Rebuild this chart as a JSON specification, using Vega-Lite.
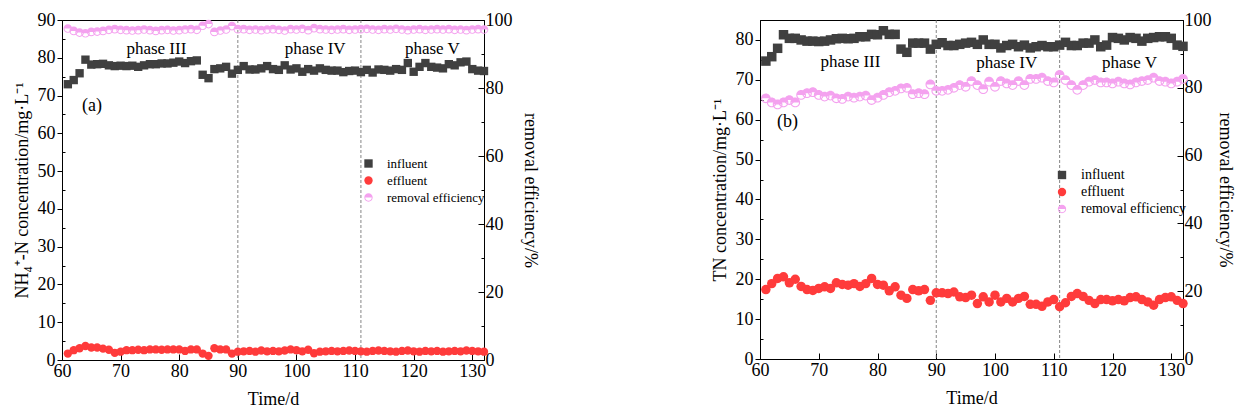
{
  "$schema": "https://vega.github.io/schema/vega-lite/v6.json",
  "background": "white",
  "padding": {"left": 12, "top": 10, "right": 5, "bottom": 2},
  "config": {
    "font": "Liberation Serif",
    "view": {"stroke": "black", "strokeWidth": 1},
    "axis": {"labelFont": "Liberation Serif", "labelFontSize": 18, "labelColor": "black", "titleFont": "Liberation Serif", "titleFontSize": 18, "titleFontWeight": "normal", "titleColor": "black", "domainColor": "black", "tickColor": "black", "grid": false, "labelFlush": false, "labelOverlap": false},
    "legend": {"labelFont": "Liberation Serif", "labelFontSize": 13, "labelColor": "black", "symbolSize": 70, "rowPadding": 3, "labelOffset": 12, "padding": 0, "symbolStrokeWidth": 0},
    "concat": {"spacing": 171}
  },
  "datasets": {
    "a": [
      {"d":61,"influent":73.0,"effluent":1.7,"removal efficiency":97.5},
      {"d":62,"influent":74.1,"effluent":2.6,"removal efficiency":96.8},
      {"d":63,"influent":75.9,"effluent":3.1,"removal efficiency":96.3},
      {"d":64,"influent":79.5,"effluent":3.7,"removal efficiency":96.1},
      {"d":65,"influent":78.2,"effluent":3.3,"removal efficiency":96.5},
      {"d":66,"influent":78.3,"effluent":3.3,"removal efficiency":96.6},
      {"d":67,"influent":78.4,"effluent":3.0,"removal efficiency":96.8},
      {"d":68,"influent":78.0,"effluent":2.7,"removal efficiency":97.1},
      {"d":69,"influent":77.8,"effluent":1.9,"removal efficiency":97.3},
      {"d":70,"influent":77.9,"effluent":2.2,"removal efficiency":97.1},
      {"d":71,"influent":77.8,"effluent":2.6,"removal efficiency":97.0},
      {"d":72,"influent":77.9,"effluent":2.6,"removal efficiency":96.9},
      {"d":73,"influent":77.6,"effluent":2.7,"removal efficiency":97.0},
      {"d":74,"influent":78.0,"effluent":2.6,"removal efficiency":97.2},
      {"d":75,"influent":78.3,"effluent":2.8,"removal efficiency":97.0},
      {"d":76,"influent":78.3,"effluent":2.8,"removal efficiency":96.8},
      {"d":77,"influent":78.5,"effluent":2.7,"removal efficiency":97.0},
      {"d":78,"influent":78.5,"effluent":2.8,"removal efficiency":97.1},
      {"d":79,"influent":78.7,"effluent":2.8,"removal efficiency":96.9},
      {"d":80,"influent":79.0,"effluent":2.8,"removal efficiency":97.0},
      {"d":81,"influent":78.6,"effluent":2.4,"removal efficiency":97.2},
      {"d":82,"influent":79.1,"effluent":2.8,"removal efficiency":97.3},
      {"d":83,"influent":79.3,"effluent":2.8,"removal efficiency":97.1},
      {"d":84,"influent":75.5,"effluent":1.7,"removal efficiency":98.3},
      {"d":85,"influent":74.6,"effluent":1.1,"removal efficiency":98.8},
      {"d":86,"influent":77.0,"effluent":3.1,"removal efficiency":96.5},
      {"d":87,"influent":77.2,"effluent":2.8,"removal efficiency":96.9},
      {"d":88,"influent":77.6,"effluent":2.8,"removal efficiency":97.2},
      {"d":89,"influent":75.8,"effluent":1.7,"removal efficiency":98.2},
      {"d":90,"influent":76.8,"effluent":2.2,"removal efficiency":97.3},
      {"d":91,"influent":77.8,"effluent":2.3,"removal efficiency":97.3},
      {"d":92,"influent":76.9,"effluent":2.4,"removal efficiency":97.1},
      {"d":93,"influent":76.9,"effluent":2.2,"removal efficiency":97.2},
      {"d":94,"influent":77.2,"effluent":2.5,"removal efficiency":97.0},
      {"d":95,"influent":77.8,"effluent":2.3,"removal efficiency":97.2},
      {"d":96,"influent":77.0,"effluent":2.4,"removal efficiency":97.3},
      {"d":97,"influent":76.8,"effluent":2.3,"removal efficiency":97.1},
      {"d":98,"influent":78.0,"effluent":2.5,"removal efficiency":96.9},
      {"d":99,"influent":76.9,"effluent":2.8,"removal efficiency":97.3},
      {"d":100,"influent":77.2,"effluent":2.6,"removal efficiency":97.2},
      {"d":101,"influent":76.3,"effluent":2.3,"removal efficiency":97.4},
      {"d":102,"influent":77.0,"effluent":2.7,"removal efficiency":97.0},
      {"d":103,"influent":76.6,"effluent":1.8,"removal efficiency":97.6},
      {"d":104,"influent":77.2,"effluent":2.2,"removal efficiency":97.3},
      {"d":105,"influent":76.8,"effluent":2.3,"removal efficiency":97.2},
      {"d":106,"influent":76.6,"effluent":2.4,"removal efficiency":97.1},
      {"d":107,"influent":76.6,"effluent":2.3,"removal efficiency":97.2},
      {"d":108,"influent":76.2,"effluent":2.4,"removal efficiency":97.3},
      {"d":109,"influent":76.5,"effluent":2.5,"removal efficiency":97.1},
      {"d":110,"influent":76.6,"effluent":2.4,"removal efficiency":97.2},
      {"d":111,"influent":76.2,"effluent":2.3,"removal efficiency":97.3},
      {"d":112,"influent":76.8,"effluent":2.2,"removal efficiency":97.4},
      {"d":113,"influent":76.1,"effluent":2.4,"removal efficiency":97.2},
      {"d":114,"influent":76.9,"effluent":2.5,"removal efficiency":97.1},
      {"d":115,"influent":76.8,"effluent":2.4,"removal efficiency":97.3},
      {"d":116,"influent":76.6,"effluent":2.3,"removal efficiency":97.2},
      {"d":117,"influent":77.0,"effluent":2.2,"removal efficiency":97.4},
      {"d":118,"influent":76.8,"effluent":2.4,"removal efficiency":97.2},
      {"d":119,"influent":78.6,"effluent":2.5,"removal efficiency":97.0},
      {"d":120,"influent":76.3,"effluent":2.3,"removal efficiency":97.2},
      {"d":121,"influent":77.6,"effluent":2.2,"removal efficiency":97.3},
      {"d":122,"influent":78.6,"effluent":2.4,"removal efficiency":97.1},
      {"d":123,"influent":77.6,"effluent":2.3,"removal efficiency":97.2},
      {"d":124,"influent":77.4,"effluent":2.4,"removal efficiency":97.3},
      {"d":125,"influent":77.2,"effluent":2.2,"removal efficiency":97.2},
      {"d":126,"influent":78.3,"effluent":2.3,"removal efficiency":97.3},
      {"d":127,"influent":78.0,"effluent":2.4,"removal efficiency":97.1},
      {"d":128,"influent":78.8,"effluent":2.3,"removal efficiency":97.2},
      {"d":129,"influent":79.0,"effluent":2.5,"removal efficiency":97.0},
      {"d":130,"influent":77.0,"effluent":2.4,"removal efficiency":97.2},
      {"d":131,"influent":76.6,"effluent":2.3,"removal efficiency":97.3},
      {"d":132,"influent":76.5,"effluent":2.2,"removal efficiency":97.2}
    ],
    "b": [
      {"d":61,"influent":74.7,"effluent":17.4,"removal efficiency":76.9},
      {"d":62,"influent":75.8,"effluent":18.9,"removal efficiency":75.7},
      {"d":63,"influent":77.9,"effluent":20.2,"removal efficiency":75.1},
      {"d":64,"influent":81.3,"effluent":20.6,"removal efficiency":75.7},
      {"d":65,"influent":80.4,"effluent":19.1,"removal efficiency":76.4},
      {"d":66,"influent":80.4,"effluent":20.0,"removal efficiency":75.7},
      {"d":67,"influent":80.0,"effluent":18.2,"removal efficiency":77.9},
      {"d":68,"influent":79.7,"effluent":17.4,"removal efficiency":78.4},
      {"d":69,"influent":79.7,"effluent":17.2,"removal efficiency":78.7},
      {"d":70,"influent":79.6,"effluent":17.7,"removal efficiency":77.9},
      {"d":71,"influent":79.7,"effluent":18.1,"removal efficiency":77.4},
      {"d":72,"influent":80.0,"effluent":17.7,"removal efficiency":77.7},
      {"d":73,"influent":80.3,"effluent":19.1,"removal efficiency":76.9},
      {"d":74,"influent":80.4,"effluent":18.7,"removal efficiency":76.7},
      {"d":75,"influent":80.3,"effluent":18.5,"removal efficiency":77.4},
      {"d":76,"influent":80.4,"effluent":18.9,"removal efficiency":77.1},
      {"d":77,"influent":80.8,"effluent":18.2,"removal efficiency":77.4},
      {"d":78,"influent":80.8,"effluent":18.9,"removal efficiency":77.7},
      {"d":79,"influent":81.4,"effluent":20.2,"removal efficiency":76.4},
      {"d":80,"influent":81.3,"effluent":18.7,"removal efficiency":77.1},
      {"d":81,"influent":82.3,"effluent":18.5,"removal efficiency":77.9},
      {"d":82,"influent":81.4,"effluent":17.1,"removal efficiency":78.7},
      {"d":83,"influent":81.4,"effluent":18.1,"removal efficiency":79.1},
      {"d":84,"influent":77.7,"effluent":16.0,"removal efficiency":79.8},
      {"d":85,"influent":76.9,"effluent":15.2,"removal efficiency":80.0},
      {"d":86,"influent":79.2,"effluent":17.4,"removal efficiency":78.1},
      {"d":87,"influent":79.2,"effluent":17.1,"removal efficiency":78.4},
      {"d":88,"influent":79.2,"effluent":17.4,"removal efficiency":78.1},
      {"d":89,"influent":77.7,"effluent":14.7,"removal efficiency":81.0},
      {"d":90,"influent":78.9,"effluent":16.6,"removal efficiency":79.1},
      {"d":91,"influent":79.3,"effluent":16.6,"removal efficiency":79.1},
      {"d":92,"influent":78.6,"effluent":16.4,"removal efficiency":79.4},
      {"d":93,"influent":78.6,"effluent":16.8,"removal efficiency":80.0},
      {"d":94,"influent":78.9,"effluent":15.6,"removal efficiency":80.8},
      {"d":95,"influent":79.2,"effluent":15.4,"removal efficiency":80.3},
      {"d":96,"influent":79.4,"effluent":16.0,"removal efficiency":82.0},
      {"d":97,"influent":78.9,"effluent":13.9,"removal efficiency":80.8},
      {"d":98,"influent":80.0,"effluent":15.6,"removal efficiency":79.6},
      {"d":99,"influent":78.9,"effluent":14.3,"removal efficiency":81.8},
      {"d":100,"influent":78.9,"effluent":16.0,"removal efficiency":80.3},
      {"d":101,"influent":78.0,"effluent":14.3,"removal efficiency":82.0},
      {"d":102,"influent":78.6,"effluent":15.2,"removal efficiency":81.3},
      {"d":103,"influent":78.9,"effluent":14.3,"removal efficiency":80.8},
      {"d":104,"influent":78.3,"effluent":15.2,"removal efficiency":82.0},
      {"d":105,"influent":78.7,"effluent":15.7,"removal efficiency":80.8},
      {"d":106,"influent":78.0,"effluent":13.7,"removal efficiency":82.6},
      {"d":107,"influent":78.3,"effluent":13.7,"removal efficiency":82.6},
      {"d":108,"influent":78.6,"effluent":13.2,"removal efficiency":83.0},
      {"d":109,"influent":78.3,"effluent":14.3,"removal efficiency":82.0},
      {"d":110,"influent":78.3,"effluent":14.9,"removal efficiency":81.6},
      {"d":111,"influent":78.7,"effluent":13.1,"removal efficiency":83.8},
      {"d":112,"influent":79.4,"effluent":14.1,"removal efficiency":82.3},
      {"d":113,"influent":78.6,"effluent":15.7,"removal efficiency":80.8},
      {"d":114,"influent":78.6,"effluent":16.4,"removal efficiency":79.4},
      {"d":115,"influent":79.2,"effluent":15.7,"removal efficiency":80.8},
      {"d":116,"influent":79.2,"effluent":14.7,"removal efficiency":81.8},
      {"d":117,"influent":80.0,"effluent":13.9,"removal efficiency":82.3},
      {"d":118,"influent":78.3,"effluent":14.9,"removal efficiency":81.6},
      {"d":119,"influent":78.7,"effluent":14.9,"removal efficiency":81.6},
      {"d":120,"influent":80.6,"effluent":14.6,"removal efficiency":81.3},
      {"d":121,"influent":80.4,"effluent":14.9,"removal efficiency":81.8},
      {"d":122,"influent":80.0,"effluent":14.6,"removal efficiency":81.3},
      {"d":123,"influent":80.6,"effluent":15.4,"removal efficiency":81.0},
      {"d":124,"influent":80.4,"effluent":15.6,"removal efficiency":81.6},
      {"d":125,"influent":79.7,"effluent":14.9,"removal efficiency":82.0},
      {"d":126,"influent":80.4,"effluent":14.3,"removal efficiency":82.3},
      {"d":127,"influent":80.6,"effluent":13.5,"removal efficiency":83.0},
      {"d":128,"influent":80.8,"effluent":14.9,"removal efficiency":82.0},
      {"d":129,"influent":80.8,"effluent":15.4,"removal efficiency":81.8},
      {"d":130,"influent":80.4,"effluent":15.6,"removal efficiency":81.3},
      {"d":131,"influent":78.7,"effluent":14.7,"removal efficiency":81.8},
      {"d":132,"influent":78.4,"effluent":13.9,"removal efficiency":82.6}
    ]
  },
  "hconcat": [
    {
      "width": 422,
      "height": 340,
      "layer": [
        {
          "layer": [
            {
              "data": {"values": [{"d": 90}, {"d": 111}]},
              "mark": {"type": "rule", "color": "#666666", "strokeWidth": 0.8, "strokeDash": [3, 2]},
              "encoding": {"x": {"field": "d", "type": "quantitative", "scale": {"domain": [60, 132], "nice": false, "zero": false}}}
            },
            {
              "data": {"name": "a"},
              "transform": [{"fold": ["influent", "effluent"], "as": ["series", "value"]}],
              "mark": {"type": "point", "filled": true, "size": 70, "opacity": 1},
              "encoding": {
                "x": {"field": "d", "type": "quantitative", "scale": {"domain": [60, 132], "nice": false, "zero": false},
                  "axis": {"title": "Time/d", "values": [60,65,70,75,80,85,90,95,100,105,110,115,120,125,130], "labelExpr": "datum.value % 10 === 0 ? datum.label : ''", "labelOverlap": false, "tickSize": {"condition": {"test": "datum.value % 10 === 0", "value": -6}, "value": -3}, "labelPadding": 8, "titlePadding": 10}},
                "y": {"field": "value", "type": "quantitative", "scale": {"domain": [0, 90], "nice": false},
                  "axis": {"orient": "left", "title": "NH₄⁺-N concentration/mg·L⁻¹", "values": [0,5,10,15,20,25,30,35,40,45,50,55,60,65,70,75,80,85,90], "labelExpr": "datum.value % 10 === 0 ? datum.label : ''", "labelOverlap": false, "tickSize": {"condition": {"test": "datum.value % 10 === 0", "value": 5}, "value": -3}, "labelPadding": 2, "titlePadding": 6}},
                "color": {"field": "series", "type": "nominal", "scale": {"domain": ["influent", "effluent", "removal efficiency"], "range": ["#404040", "#ff3b3b", "#f4a2ef"]}, "legend": {"title": null, "orient": "none", "legendX": 300, "legendY": 137}},
                "shape": {"field": "series", "type": "nominal", "scale": {"domain": ["influent", "effluent", "removal efficiency"], "range": ["square", "circle", "M-1,0A1,1,0,0,1,1,0Z M-1,0A1,1,0,0,0,1,0L0.78,0A0.78,0.78,0,0,1,-0.78,0Z"]}, "legend": {"title": null, "orient": "none", "legendX": 300, "legendY": 137}}
              }
            },
            {
              "data": {"values": [
                {"d": 76.1, "value": 82.4, "t": "phase III", "s": 17},
                {"d": 103.2, "value": 82.4, "t": "phase IV", "s": 17},
                {"d": 123.2, "value": 82.4, "t": "phase V", "s": 17},
                {"d": 65.1, "value": 67.2, "t": "(a)", "s": 18}
              ]},
              "mark": {"type": "text", "font": "Liberation Serif", "color": "black", "align": "center", "baseline": "middle"},
              "encoding": {
                "x": {"field": "d", "type": "quantitative",
                  "axis": {"title": "Time/d", "values": [60,65,70,75,80,85,90,95,100,105,110,115,120,125,130], "labelExpr": "datum.value % 10 === 0 ? datum.label : ''", "labelOverlap": false, "tickSize": {"condition": {"test": "datum.value % 10 === 0", "value": -6}, "value": -3}, "labelPadding": 8, "titlePadding": 10}},
                "y": {"field": "value", "type": "quantitative",
                  "axis": {"orient": "left", "title": "NH₄⁺-N concentration/mg·L⁻¹", "values": [0,5,10,15,20,25,30,35,40,45,50,55,60,65,70,75,80,85,90], "labelExpr": "datum.value % 10 === 0 ? datum.label : ''", "labelOverlap": false, "tickSize": {"condition": {"test": "datum.value % 10 === 0", "value": 5}, "value": -3}, "labelPadding": 2, "titlePadding": 6}},
                "text": {"field": "t"},
                "size": {"field": "s", "type": "quantitative", "scale": null, "legend": null}
              }
            }
          ]
        },
        {
          "data": {"name": "a"},
          "transform": [{"fold": ["removal efficiency"], "as": ["series", "value"]}],
          "mark": {"type": "point", "filled": true, "size": 75, "opacity": 1},
          "encoding": {
            "x": {"field": "d", "type": "quantitative",
              "axis": {"title": "Time/d", "values": [60,65,70,75,80,85,90,95,100,105,110,115,120,125,130], "labelExpr": "datum.value % 10 === 0 ? datum.label : ''", "labelOverlap": false, "tickSize": {"condition": {"test": "datum.value % 10 === 0", "value": -6}, "value": -3}, "labelPadding": 8, "titlePadding": 10}},
            "y": {"field": "value", "type": "quantitative", "scale": {"domain": [0, 100], "nice": false},
              "axis": {"orient": "right", "title": "removal efficiency/%", "values": [0,10,20,30,40,50,60,70,80,90,100], "labelExpr": "datum.value % 20 === 0 ? datum.label : ''", "labelOverlap": false, "tickSize": {"condition": {"test": "datum.value % 20 === 0", "value": -6}, "value": -3}, "labelPadding": 7, "titlePadding": 8}},
            "color": {"field": "series", "type": "nominal", "legend": {"title": null, "orient": "none", "legendX": 300, "legendY": 137}},
            "shape": {"field": "series", "type": "nominal", "legend": {"title": null, "orient": "none", "legendX": 300, "legendY": 137}}
          }
        }
      ],
      "resolve": {"scale": {"y": "independent"}}
    },
    {
      "width": 423,
      "height": 339,
      "layer": [
        {
          "layer": [
            {
              "data": {"values": [{"d": 90}, {"d": 111}]},
              "mark": {"type": "rule", "color": "#666666", "strokeWidth": 0.8, "strokeDash": [3, 2]},
              "encoding": {"x": {"field": "d", "type": "quantitative", "scale": {"domain": [60, 132], "nice": false, "zero": false}}}
            },
            {
              "data": {"name": "b"},
              "transform": [{"fold": ["influent", "effluent"], "as": ["series", "value"]}],
              "mark": {"type": "point", "filled": true, "size": 90, "opacity": 1},
              "encoding": {
                "x": {"field": "d", "type": "quantitative", "scale": {"domain": [60, 132], "nice": false, "zero": false},
                  "axis": {"title": "Time/d", "values": [60,65,70,75,80,85,90,95,100,105,110,115,120,125,130], "labelExpr": "datum.value % 10 === 0 ? datum.label : ''", "labelOverlap": false, "tickSize": {"condition": {"test": "datum.value % 10 === 0", "value": -6}, "value": -3}, "labelPadding": 8, "titlePadding": 10}},
                "y": {"field": "value", "type": "quantitative", "scale": {"domain": [0, 85], "nice": false},
                  "axis": {"orient": "left", "title": "TN concentration/mg·L⁻¹", "values": [0,5,10,15,20,25,30,35,40,45,50,55,60,65,70,75,80,85], "labelExpr": "datum.value % 10 === 0 ? datum.label : ''", "labelOverlap": false, "tickSize": {"condition": {"test": "datum.value % 10 === 0", "value": 5}, "value": -3}, "labelPadding": 2, "titlePadding": 6}},
                "color": {"field": "series", "type": "nominal", "scale": {"domain": ["influent", "effluent", "removal efficiency"], "range": ["#404040", "#ff3b3b", "#f4a2ef"]}, "legend": {"title": null, "orient": "none", "legendX": 295, "legendY": 148, "labelFontSize": 14, "rowPadding": 3}},
                "shape": {"field": "series", "type": "nominal", "scale": {"domain": ["influent", "effluent", "removal efficiency"], "range": ["square", "circle", "M-1,0A1,1,0,0,1,1,0Z M-1,0A1,1,0,0,0,1,0L0.78,0A0.78,0.78,0,0,1,-0.78,0Z"]}, "legend": {"title": null, "orient": "none", "legendX": 295, "legendY": 148, "labelFontSize": 14, "rowPadding": 3}}
              }
            },
            {
              "data": {"values": [
                {"d": 75.4, "value": 74.5, "t": "phase  III", "s": 17},
                {"d": 102.0, "value": 74.2, "t": "phase  IV", "s": 17},
                {"d": 122.9, "value": 74.2, "t": "phase  V", "s": 17},
                {"d": 64.7, "value": 59.4, "t": "(b)", "s": 18}
              ]},
              "mark": {"type": "text", "font": "Liberation Serif", "color": "black", "align": "center", "baseline": "middle"},
              "encoding": {
                "x": {"field": "d", "type": "quantitative",
                  "axis": {"title": "Time/d", "values": [60,65,70,75,80,85,90,95,100,105,110,115,120,125,130], "labelExpr": "datum.value % 10 === 0 ? datum.label : ''", "labelOverlap": false, "tickSize": {"condition": {"test": "datum.value % 10 === 0", "value": -6}, "value": -3}, "labelPadding": 8, "titlePadding": 10}},
                "y": {"field": "value", "type": "quantitative",
                  "axis": {"orient": "left", "title": "TN concentration/mg·L⁻¹", "values": [0,5,10,15,20,25,30,35,40,45,50,55,60,65,70,75,80,85], "labelExpr": "datum.value % 10 === 0 ? datum.label : ''", "labelOverlap": false, "tickSize": {"condition": {"test": "datum.value % 10 === 0", "value": 5}, "value": -3}, "labelPadding": 2, "titlePadding": 6}},
                "text": {"field": "t"},
                "size": {"field": "s", "type": "quantitative", "scale": null, "legend": null}
              }
            }
          ]
        },
        {
          "data": {"name": "b"},
          "transform": [{"fold": ["removal efficiency"], "as": ["series", "value"]}],
          "mark": {"type": "point", "filled": true, "size": 95, "opacity": 1},
          "encoding": {
            "x": {"field": "d", "type": "quantitative",
              "axis": {"title": "Time/d", "values": [60,65,70,75,80,85,90,95,100,105,110,115,120,125,130], "labelExpr": "datum.value % 10 === 0 ? datum.label : ''", "labelOverlap": false, "tickSize": {"condition": {"test": "datum.value % 10 === 0", "value": -6}, "value": -3}, "labelPadding": 8, "titlePadding": 10}},
            "y": {"field": "value", "type": "quantitative", "scale": {"domain": [0, 100], "nice": false},
              "axis": {"orient": "right", "title": "removal efficiency/%", "values": [0,10,20,30,40,50,60,70,80,90,100], "labelExpr": "datum.value % 20 === 0 ? datum.label : ''", "labelOverlap": false, "tickSize": {"condition": {"test": "datum.value % 20 === 0", "value": -6}, "value": -3}, "labelPadding": 7, "titlePadding": 4}},
            "color": {"field": "series", "type": "nominal", "legend": {"title": null, "orient": "none", "legendX": 295, "legendY": 148, "labelFontSize": 14, "rowPadding": 3}},
            "shape": {"field": "series", "type": "nominal", "legend": {"title": null, "orient": "none", "legendX": 295, "legendY": 148, "labelFontSize": 14, "rowPadding": 3}}
          }
        }
      ],
      "resolve": {"scale": {"y": "independent"}}
    }
  ],
  "resolve": {"scale": {"color": "independent", "shape": "independent"}}
}
